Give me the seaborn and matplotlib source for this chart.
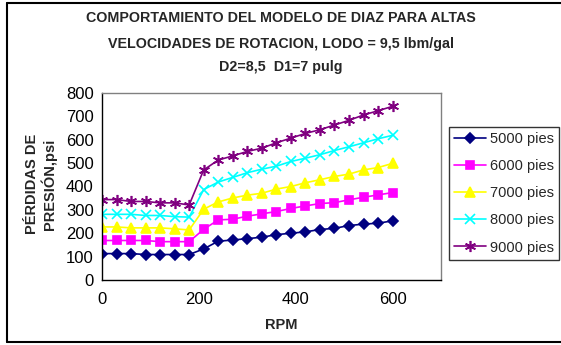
import numpy as np
import pandas as pd
import matplotlib
matplotlib.use("Agg")
import matplotlib.pyplot as plt
from matplotlib.lines import Line2D
import seaborn as sns

# Rotary speed (RPM) and pressure losses (psi) for each well depth
rpm = [0, 30, 60, 90, 120, 150, 180, 210, 240, 270, 300, 330, 360, 390, 420,
       450, 480, 510, 540, 570, 600]
p_5000 = [113, 113, 113, 109, 109, 109, 109, 133, 166, 171, 177, 183, 194, 200,
          206, 216, 221, 233, 239, 243, 253]
p_6000 = [169, 169, 169, 169, 164, 164, 164, 217, 257, 260, 273, 283, 293, 306,
          317, 327, 331, 343, 354, 364, 374]
p_7000 = [227, 227, 223, 223, 223, 219, 214, 303, 334, 351, 363, 371, 389, 400,
          416, 429, 443, 453, 471, 481, 499]
p_8000 = [281, 281, 281, 276, 276, 271, 269, 387, 419, 439, 459, 474, 487, 507,
          521, 536, 554, 570, 587, 604, 619]
p_9000 = [344, 344, 336, 336, 330, 330, 321, 471, 513, 531, 550, 564, 587, 607,
          627, 643, 663, 683, 706, 724, 743]

series_names = ["5000 pies", "6000 pies", "7000 pies", "8000 pies", "9000 pies"]
series_values = [p_5000, p_6000, p_7000, p_8000, p_9000]
x_ticks = [0, 200, 400, 600]
y_ticks = [0, 100, 200, 300, 400, 500, 600, 700, 800]

title_lines = ["COMPORTAMIENTO DEL MODELO DE DIAZ PARA ALTAS",
               "VELOCIDADES DE ROTACION, LODO = 9,5 lbm/gal",
               "D2=8,5  D1=7 pulg"]

colors = ["#000080", "#FF00FF", "#FFFF00", "#00FFFF", "#800080"]
markers = ["D", "s", "^", "x", (6, 2, 0)]
msizes = [5, 6, 7, 7, 8]

df = pd.concat(
    [pd.DataFrame({"RPM": rpm, "psi": vals, "serie": name})
     for name, vals in zip(series_names, series_values)],
    ignore_index=True)

sns.set_style("white")
plt.rcParams["font.family"] = ["Liberation Sans", "DejaVu Sans"]

W, H = 561, 345
fig = plt.figure(figsize=(W / 100, H / 100), dpi=100)
ax = fig.add_axes([102 / W, 1 - 280 / H, (441 - 102) / W, (280 - 93) / H])

for name, col, mk, ms in zip(series_names, colors, markers, msizes):
    sub = df[df["serie"] == name]
    sns.lineplot(data=sub, x="RPM", y="psi", ax=ax, color=col, marker=mk,
                 markersize=ms, markeredgecolor=col, markerfacecolor=col,
                 markeredgewidth=1.2, linewidth=1.2, legend=False)

ax.set_xlim(0, 700)
ax.set_ylim(0, 800)
ax.set_xticks(x_ticks)
ax.set_yticks(y_ticks)
ax.tick_params(axis="both", labelsize=12, colors="black")
ax.tick_params(axis="x", direction="out", length=4, width=1, pad=5)
ax.tick_params(axis="y", direction="inout", length=8, width=1, pad=2)
ax.set_xlabel("")
ax.set_ylabel("")
for side in ["left", "bottom"]:
    ax.spines[side].set_color("black")
    ax.spines[side].set_linewidth(1.0)
for side in ["top", "right"]:
    ax.spines[side].set_visible(True)
    ax.spines[side].set_color("#808080")
    ax.spines[side].set_linewidth(1.0)

fig.text(281 / W, 1 - 325 / H, "RPM", ha="center", va="center",
         fontsize=10.5, fontweight="bold")
fig.text(41 / W, 1 - 184 / H, "PÉRDIDAS DE\nPRESIÓN,psi", rotation=90,
         ha="center", va="center", multialignment="center",
         fontsize=10.5, fontweight="bold", linespacing=1.15)

for yy, line in zip([18, 44, 67], title_lines):
    fig.text(281 / W, 1 - yy / H, line, ha="center", va="center",
             fontsize=10.25, fontweight="bold")

handles = [Line2D([0], [0], color=c, marker=m, markersize=s, markeredgecolor=c,
                  markerfacecolor=c, markeredgewidth=1.2, linewidth=1.2)
           for c, m, s in zip(colors, markers, msizes)]
leg = fig.legend(handles, series_names, loc="upper left",
                 bbox_to_anchor=(449 / W, 1 - 127 / H), fontsize=10.5,
                 frameon=True, fancybox=False, edgecolor="black",
                 handlelength=2.2, handletextpad=0.25, labelspacing=0.9,
                 borderpad=0.35, borderaxespad=0)
leg.get_frame().set_linewidth(1.0)

# Outer chart frame
frame_kw = dict(color="black", linewidth=1.5, transform=fig.transFigure,
                clip_on=False)
fig.add_artist(Line2D([7 / W, 7 / W], [1 - 3 / H, 1 - 342 / H], **frame_kw))
fig.add_artist(Line2D([7 / W, 1.0], [1 - 3 / H, 1 - 3 / H], **frame_kw))
fig.add_artist(Line2D([7 / W, 1.0], [1 - 342 / H, 1 - 342 / H], **frame_kw))

fig.savefig("out.png", dpi=100)
